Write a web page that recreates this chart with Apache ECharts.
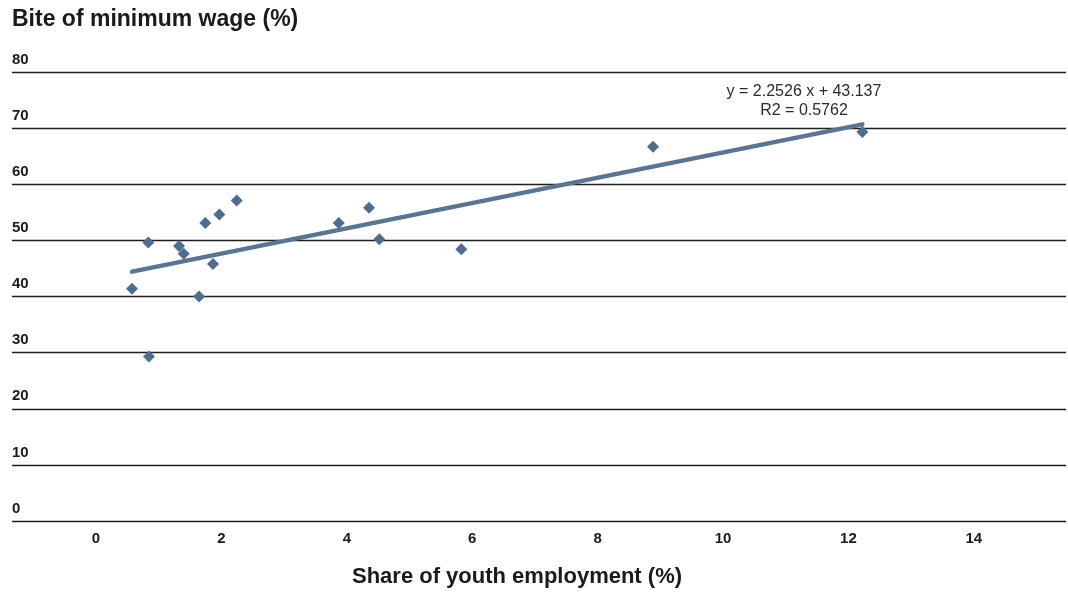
<!DOCTYPE html>
<html>
<head>
<meta charset="utf-8">
<script src="https://cdn.jsdelivr.net/npm/echarts@6/dist/echarts.min.js"></script>
<style>
  html, body { margin: 0; padding: 0; background: #ffffff; }
  #chart { width: 1068px; height: 592px; }
</style>
</head>
<body>
<div id="chart"></div>
<script>
// Share of youth employment (%) per country
const youthShare = [0.574, 0.834, 0.845, 1.324, 1.399, 1.643, 1.743, 1.866, 1.967, 2.244, 3.871, 4.354, 4.518, 5.826, 8.884, 12.222];
// Bite of minimum wage (%) per country
const wageBite = [41.4, 49.6, 29.3, 49.0, 47.6, 40.0, 53.1, 45.8, 54.6, 57.1, 53.1, 55.8, 50.2, 48.4, 66.7, 69.3];
// Linear trend fitted to the points
const trendSlope = 2.2526;
const trendIntercept = 43.137;
const trendR2 = 0.5762;
// Tick labels
const xTicks = [0, 2, 4, 6, 8, 10, 12, 14];
const yTicks = [0, 10, 20, 30, 40, 50, 60, 70, 80];

const points = youthShare.map((x, i) => [x, wageBite[i]]);
const xLo = Math.min(...youthShare);
const xHi = Math.max(...youthShare);
const trend = [xLo, xHi].map(x => [x, trendSlope * x + trendIntercept]);

const font = '"Liberation Sans", Arial, Helvetica, sans-serif';
const ink = '#1a1a1a';
const chart = echarts.init(document.getElementById('chart'), null, { renderer: 'canvas' });

chart.setOption({
  animation: false,
  backgroundColor: '#ffffff',
  title: {
    text: 'Bite of minimum wage (%)',
    left: 12,
    top: 8,
    padding: 0,
    textStyle: { fontFamily: font, fontSize: 23, fontWeight: 'bold', color: ink }
  },
  grid: { left: 12, right: 2, top: 72, bottom: 71, containLabel: false },
  xAxis: {
    type: 'value',
    min: -1.34,
    max: 15.47,
    splitLine: { show: false },
    axisLine: { show: false },
    axisTick: { show: false },
    axisLabel: {
      customValues: xTicks,
      margin: 10,
      fontFamily: font,
      fontSize: 15,
      fontWeight: 'bold',
      color: ink
    }
  },
  yAxis: {
    type: 'value',
    min: yTicks[0],
    max: yTicks[yTicks.length - 1],
    interval: 10,
    axisLine: { show: false },
    axisTick: { show: false },
    splitLine: { show: true, lineStyle: { color: '#1e1e1e', width: 1.4 } },
    axisLabel: {
      inside: true,
      margin: 0,
      align: 'left',
      verticalAlign: 'bottom',
      padding: [0, 0, 5, 0],
      fontFamily: font,
      fontSize: 15,
      fontWeight: 'bold',
      color: ink
    }
  },
  graphic: [
    {
      type: 'text',
      x: 517,
      y: 566,
      style: {
        text: 'Share of youth employment (%)',
        font: 'bold 22px ' + font,
        fill: ink,
        align: 'center'
      }
    },
    {
      type: 'text',
      x: 804,
      y: 82,
      style: {
        text: 'y = 2.2526 x + 43.137\nR2 = ' + trendR2.toFixed(4),
        font: '16px ' + font,
        fill: '#2a2a2a',
        align: 'center',
        lineHeight: 19
      }
    }
  ],
  series: [
    {
      type: 'line',
      data: trend,
      symbol: 'none',
      lineStyle: { color: '#5a7593', width: 4.5, cap: 'round' },
      z: 2
    },
    {
      type: 'scatter',
      data: points,
      symbol: 'diamond',
      symbolSize: [12, 12],
      itemStyle: { color: '#4f6d8e', opacity: 1 },
      z: 3
    }
  ]
});
</script>
</body>
</html>
